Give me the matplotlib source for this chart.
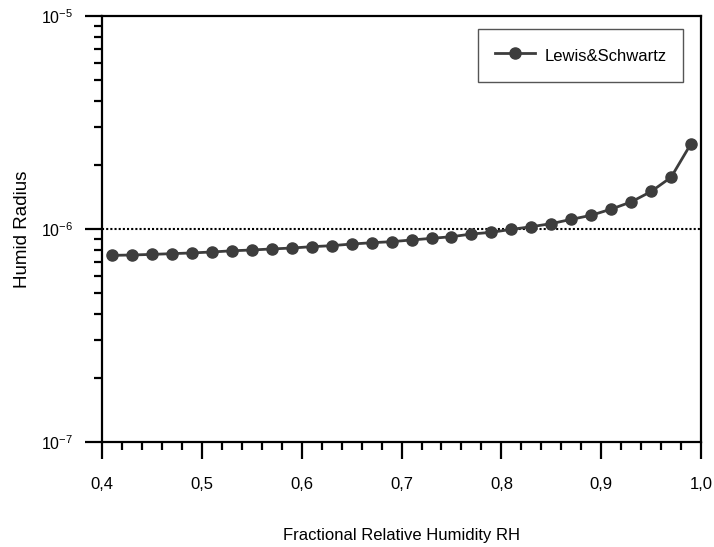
import numpy as np
import matplotlib
matplotlib.use("Agg")
import matplotlib.pyplot as plt
from matplotlib.ticker import FuncFormatter, MultipleLocator, LogLocator, NullFormatter

plt.rcParams['font.family'] = ['Liberation Sans', 'DejaVu Sans']
plt.rcParams['mathtext.fontset'] = 'custom'
plt.rcParams['mathtext.rm'] = 'Liberation Sans'
plt.rcParams['mathtext.it'] = 'Liberation Sans'

# relative humidity and humid radius (m)
rh = [0.41, 0.43, 0.45, 0.47, 0.49, 0.51, 0.53, 0.55, 0.57, 0.59,
      0.61, 0.63, 0.65, 0.67, 0.69, 0.71, 0.73, 0.75, 0.77, 0.79,
      0.81, 0.83, 0.85, 0.87, 0.89, 0.91, 0.93, 0.95, 0.97, 0.99]
radius = [0.752e-6, 0.755e-6, 0.760e-6, 0.766e-6, 0.772e-6, 0.780e-6, 0.790e-6, 0.797e-6, 0.806e-6, 0.814e-6,
          0.826e-6, 0.835e-6, 0.850e-6, 0.862e-6, 0.872e-6, 0.888e-6, 0.904e-6, 0.920e-6, 0.947e-6, 0.965e-6,
          0.996e-6, 1.025e-6, 1.06e-6, 1.11e-6, 1.16e-6, 1.24e-6, 1.34e-6, 1.50e-6, 1.75e-6, 2.52e-6]
reference_radius = 1e-6

fig = plt.figure(figsize=(7.14, 5.47), dpi=100)
ax = fig.add_axes([0.1429, 0.192, 0.839, 0.7787])

ax.axhline(reference_radius, color='black', linestyle=(0, (1, 1)), linewidth=1.5, zorder=1)
ax.plot(rh, radius, color='#3d3d3d', linewidth=2, marker='o', markersize=8,
        label='Lewis&Schwartz', zorder=3)

ax.set_yscale('log')
ax.set_xlim(0.4, 1.0)
ax.set_ylim(1e-7, 1e-5)

ax.xaxis.set_major_locator(MultipleLocator(0.1))
ax.xaxis.set_minor_locator(MultipleLocator(0.02))
ax.xaxis.set_major_formatter(FuncFormatter(lambda v, p: ('%.1f' % v).replace('.', ',')))

ax.yaxis.set_major_locator(LogLocator(base=10, numticks=10))
ax.yaxis.set_minor_locator(LogLocator(base=10, subs=np.arange(2, 10), numticks=20))
ax.yaxis.set_minor_formatter(NullFormatter())
ax.yaxis.set_major_formatter(FuncFormatter(lambda v, p: r'$\mathregular{10^{%d}}$' % round(np.log10(v))))

for s in ax.spines.values():
    s.set_linewidth(1.6)
ax.tick_params(which='major', direction='out', length=12, width=1.6)
ax.tick_params(which='minor', direction='out', length=6, width=1.6)
ax.tick_params(axis='x', which='major', pad=13, labelsize=12)
ax.tick_params(axis='y', which='major', pad=9, labelsize=11.5)

ax.set_xlabel('Fractional Relative Humidity RH', fontsize=12, labelpad=26)
ax.set_ylabel('Humid Radius', fontsize=13.5, labelpad=7)

leg = ax.legend(loc='upper right', bbox_to_anchor=(683 / 714, 1 - 29 / 547),
                bbox_transform=fig.transFigure, borderaxespad=0,
                fontsize=12, frameon=True, fancybox=False, framealpha=1,
                handlelength=2.4, handleheight=1.4, handletextpad=0.55,
                borderpad=1.0, edgecolor='#555555')
leg.get_frame().set_linewidth(1.0)

fig.savefig('out.png', dpi=100)
